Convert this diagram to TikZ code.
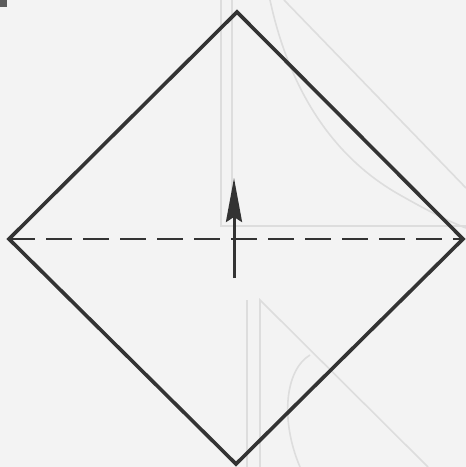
\documentclass[tikz,border=0pt]{standalone}
\usetikzlibrary{arrows.meta}
\definecolor{bg}{HTML}{F3F3F3}
\definecolor{ink}{HTML}{333333}
\definecolor{ghost}{HTML}{DDDDDD}
\tikzset{
  edge/.style={draw=ink,line width=3.6bp,line join=miter},
  fold/.style={draw=ink,line width=2.2bp,dash pattern=on 26bp off 11bp},
  movearrow/.style={draw=ink,line width=3bp,-{Stealth[length=44bp,width=16bp,inset=5bp]}},
  bleed/.style={draw=ghost,line width=1.6bp}
}
\begin{document}
\begin{tikzpicture}[x=1bp,y=-1bp]
\fill[bg] (0,0) rectangle (466,467);
\useasboundingbox (0,0) rectangle (466,467);
\fill[ink!80] (0,0) rectangle (7,7);
% faint show-through from the reverse page
\draw[bleed] (221,0) -- (221,226) -- (466,226);
\draw[bleed] (232,0) -- (232,216);
\draw[bleed] (270,0) .. controls (285,70) and (320,150) .. (400,195) .. controls (430,212) and (450,222) .. (466,228);
\draw[bleed] (284,0) -- (466,188);
\draw[bleed] (247,467) -- (247,300);
\draw[bleed] (260,467) -- (260,300) -- (428,467);
\draw[bleed] (310,355) .. controls (285,370) and (280,420) .. (300,467);
% the square
\coordinate (T) at (237,12);
\coordinate (L) at (9,239);
\coordinate (B) at (236,464);
\coordinate (R) at (463,239);
\draw[fold] (L) -- (R);
\draw[edge] (T) -- (R) -- (B) -- (L) -- cycle;
\coordinate (a0) at (234,278);
\coordinate (a1) at (234,178);
\draw[movearrow] (a0) -- (a1);
\end{tikzpicture}
\end{document}
